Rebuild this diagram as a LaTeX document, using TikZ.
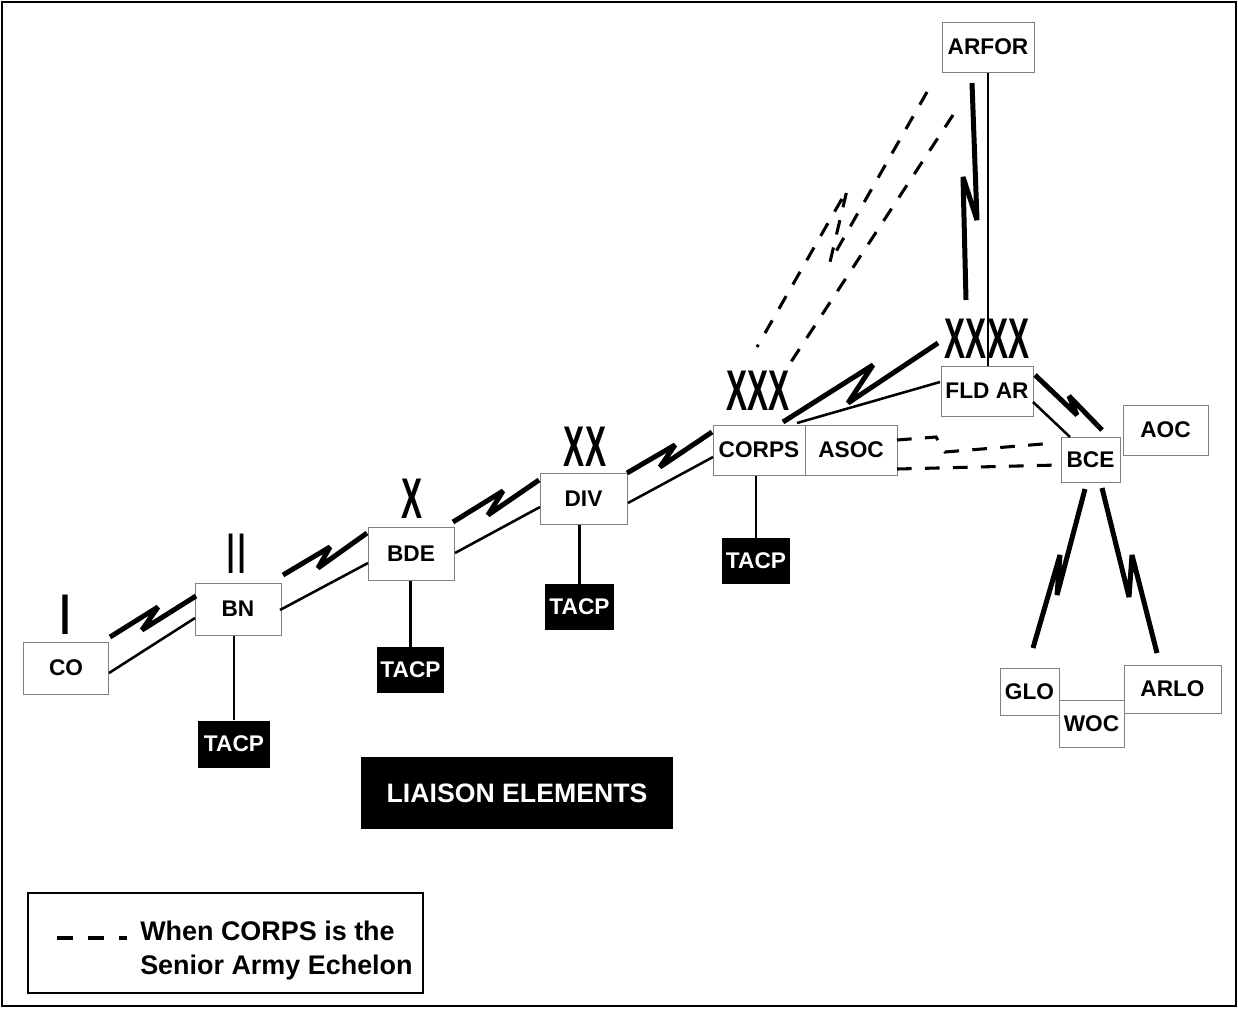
\documentclass[tikz,border=0pt]{standalone}
\usepackage{fontspec}
\setmainfont{Liberation Sans}
\usepackage{graphicx}
\usetikzlibrary{calc}
\definecolor{boxgray}{gray}{0.5}
\newcommand\lblfont{\bfseries\fontsize{17}{20}\selectfont}
\newcommand\echfont{\fontsize{43}{43}\selectfont}
\newcommand\legfont{\bfseries\fontsize{20.2}{24}\selectfont}
\tikzset{
  box/.style={draw=boxgray, line width=0.75pt, fill=white, inner sep=0pt, font=\lblfont},
  blk/.style={fill=black, text=white, inner sep=0pt, font=\lblfont},
  boltline/.style={line width=3.75pt, line join=miter, miter limit=3},
  conn/.style={line width=1.9pt},
  dline/.style={line width=2.3pt, dash pattern=on 11pt off 10pt},
  ech/.style={anchor=base, inner sep=0pt, font=\echfont},
  echx/.style={anchor=base, inner sep=0pt, font=\echfont\bfseries},
}
\begin{document}
\begin{tikzpicture}[x=0.75pt,y=-0.75pt]
\useasboundingbox (0,0) rectangle (1238,1008);
\draw[line width=1.5pt] (2,2) rectangle (1236,1006);

% main boxes
\node[box, minimum width=63.75pt, minimum height=39pt] (co) at (66,668) {CO};
\node[box, minimum width=64.5pt, minimum height=39pt] (bn) at (238,609) {BN};
\node[box, minimum width=64.5pt, minimum height=39.75pt] (bde) at (411,553.5) {BDE};
\node[box, minimum width=65.25pt, minimum height=38.25pt] (div) at (583.5,498.5) {DIV};
\node[box, minimum width=69pt, minimum height=37.5pt] (corps) at (759,450) {CORPS};
\node[box, minimum width=69pt, minimum height=37.5pt] (asoc) at (851,450) {ASOC};
\node[box, minimum width=69pt, minimum height=37.5pt] (fldar) at (987,391) {FLD AR};
\node[box, minimum width=69pt, minimum height=37.5pt] (arfor) at (988,47) {ARFOR};
\node[box, minimum width=44.25pt, minimum height=33.75pt] (bce) at (1090.5,459.5) {BCE};
\node[box, minimum width=63.75pt, minimum height=37.5pt] (aoc) at (1165.5,430) {AOC};
\node[box, minimum width=44.25pt, minimum height=35.25pt] (glo) at (1029.5,691.5) {GLO};
\node[box, minimum width=48.75pt, minimum height=35.25pt] (woc) at (1091.5,723.5) {WOC};
\node[box, minimum width=72.75pt, minimum height=36pt] (arlo) at (1172.5,689) {ARLO};

% TACP boxes
\node[blk, minimum width=54pt, minimum height=35.25pt] (tacp1) at (234,744) {TACP};
\node[blk, minimum width=50.25pt, minimum height=34.5pt] (tacp2) at (410.5,670) {TACP};
\node[blk, minimum width=51.75pt, minimum height=34.5pt] (tacp3) at (579.5,607) {TACP};
\node[blk, minimum width=51pt, minimum height=34.5pt] (tacp4) at (756,561) {TACP};
\node[blk, minimum width=234pt, minimum height=54pt, font=\bfseries\fontsize{20}{24}\selectfont] (liaison) at (517,793) {LIAISON ELEMENTS};

% echelon symbols
\node[ech] (e1) at (65.5,634) {I};
\node[ech] (e2) at (236.5,573) {\scalebox{0.7}[1]{II}};
\node[echx] (e3) at (412,518) {\scalebox{0.55}[1]{X}};
\node[echx] (e4) at (585,466) {\scalebox{0.55}[1]{XX}};
\node[echx] (e5) at (758,410) {\scalebox{0.55}[1]{XXX}};
\node[echx] (e6) at (987,358) {\scalebox{0.55}[1]{XXXX}};

% CO - BN
\draw[boltline] ($(co)+(44,-31)$) -- (158,607) -- (142,630) -- ($(bn)+(-42,-13)$);
\draw[conn] ($(co)+(43,5)$) -- ($(bn)+(-43,9)$);
% BN - BDE
\draw[boltline] ($(bn)+(45,-34)$) -- (330,547) -- (318,568) -- ($(bde)+(-44,-20.5)$);
\draw[conn] ($(bn)+(42,1)$) -- ($(bde)+(-43,9.5)$);
% BDE - DIV
\draw[boltline] ($(bde)+(42,-31.5)$) -- (503,491) -- (488,515) -- ($(div)+(-44.5,-18.5)$);
\draw[conn] ($(bde)+(44,-0.5)$) -- ($(div)+(-43.5,8.5)$);
% DIV - CORPS
\draw[boltline] ($(div)+(43.5,-25.5)$) -- (675,445) -- (660,467) -- ($(corps)+(-47,-18)$);
\draw[conn] ($(div)+(44.5,4.5)$) -- ($(corps)+(-46,7)$);
% CORPS - FLD AR
\draw[boltline] ($(corps)+(24,-28)$) -- (873,365) -- (848,403) -- ($(fldar)+(-49,-48)$);
\draw[conn] ($(corps)+(38,-27)$) -- ($(fldar)+(-47,-9)$);
% FLD AR - BCE
\draw[boltline] ($(fldar)+(48,-16)$) -- (1077,415) -- (1069,396) -- ($(bce)+(11.5,-29.5)$);
\draw[conn] ($(fldar)+(46,11)$) -- ($(bce)+(-20.5,-22.5)$);
% ARFOR - FLD AR
\draw[boltline] ($(arfor)+(-16,36)$) -- (977,220) -- (963,177) -- ($(fldar)+(-21,-91)$);
\draw[conn] (arfor.south) -- (arfor.south |- fldar.north);
% BCE - GLO / ARLO
\draw[boltline] ($(bce)+(-5.5,29.5)$) -- (1057,595) -- (1060,555) -- ($(glo)+(3.5,-43.5)$);
\draw[boltline] ($(bce)+(11.5,28.5)$) -- (1129,597) -- (1132,555) -- ($(arlo)+(-15.5,-36)$);

% dashed links
\draw[dline] ($(arfor)+(-61,45)$) -- (830,262) -- (847,190) -- ($(corps)+(-2,-103)$);
\draw[dline] ($(arfor)+(-35,68)$) -- ($(corps)+(28,-82)$);
\draw[dline] ($(asoc)+(46,-10)$) -- (936,437) -- (945,452) -- ($(bce)+(-35.5,-16.5)$);
\draw[dline] ($(asoc)+(46,19)$) -- ($(bce)+(-32.5,5.5)$);

% TACP links
\draw[conn] (tacp1.north |- bn.south) -- (tacp1.north);
\draw[conn] (tacp2.north |- bde.south) -- (tacp2.north);
\draw[conn] (tacp3.north |- div.south) -- (tacp3.north);
\draw[conn] (tacp4.north |- corps.south) -- (tacp4.north);

% legend
\draw[line width=1.2pt] (28,893) rectangle (423,993);
\coordinate (ld1) at (57,938);
\coordinate (ld2) at (127,938);
\draw[line width=2.6pt, dash pattern=on 12pt off 11.25pt] (ld1) -- (ld2);
\node[anchor=base west, inner sep=0pt, font=\legfont] (leg1) at (140,940) {When CORPS is the};
\node[anchor=base west, inner sep=0pt, font=\legfont] (leg2) at (140,974) {Senior Army Echelon};
\end{tikzpicture}
\end{document}
